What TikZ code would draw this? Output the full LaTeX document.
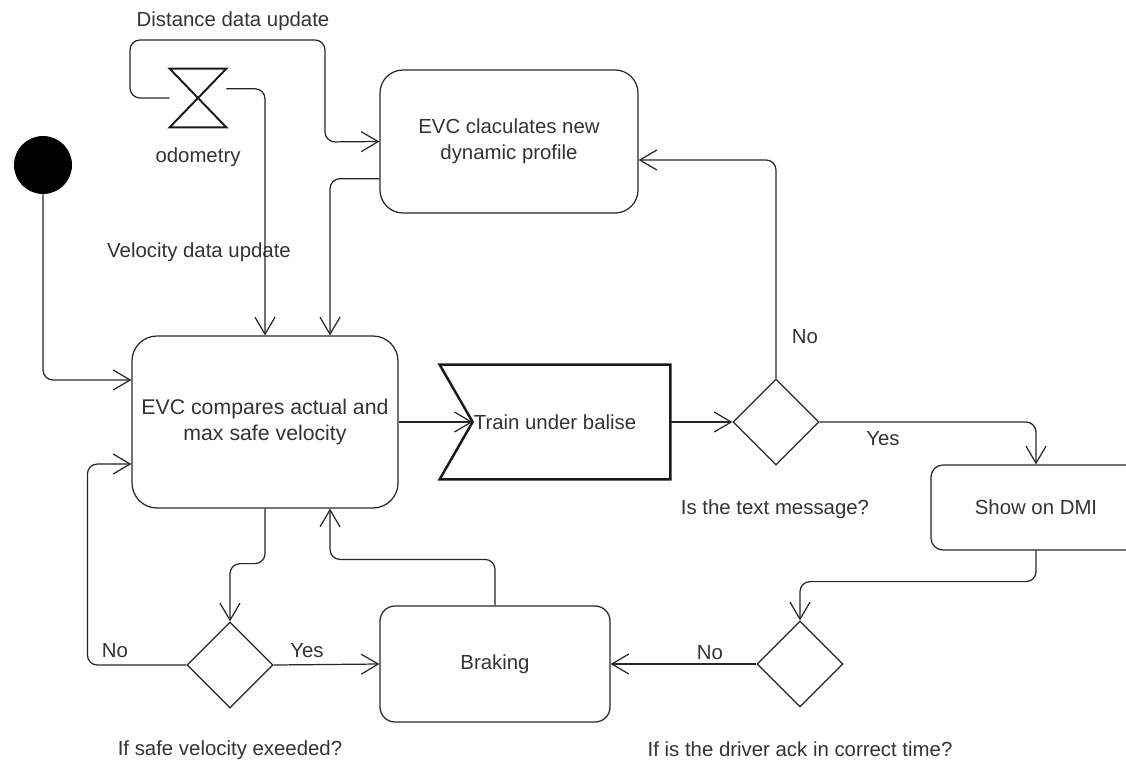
\documentclass[tikz,border=0pt]{standalone}
\usepackage{fontspec}
\setmainfont{Liberation Sans}
\usetikzlibrary{arrows.meta,shapes.geometric}
\begin{document}
\begin{tikzpicture}[x=0.2mm,y=-0.2mm,
  every node/.style={font=\fontsize{11.6}{15}\selectfont, text=black!80},
  flow/.style={draw=black!85, line width=0.7pt, rounded corners=2mm, -{Straight Barb[length=3.4mm,width=4mm]}},
  state/.style={draw=black!85, line width=0.7pt, rounded corners=4mm, align=center, inner sep=0pt},
  choice/.style={draw=black!85, line width=0.7pt, diamond, minimum size=17.2mm, inner sep=0pt}]
  \useasboundingbox (0,0) rectangle (1126,763);
  \node[circle, fill=black, minimum size=11.6mm, inner sep=0pt] (start) at (43,165) {};
  \node[minimum width=11.2mm, minimum height=11.6mm, inner sep=0pt] (odo) at (198,98) {};
  \draw[line width=1.1pt, black!90] (odo.north west) -- (odo.north east) -- (odo.south west) -- (odo.south east) -- cycle;
  \node (odolbl) at (198,157) {odometry};
  \node (distlbl) at (233,21) {Distance data update};
  \node (vellbl) at (199,252) {Velocity data update};
  \node[state, rounded corners=4.6mm, minimum width=51.6mm, minimum height=28.6mm] (calc) at (509,141.5) {EVC claculates new\\dynamic profile};
  \node[state, rounded corners=5mm, minimum width=53.2mm, minimum height=34.4mm, font=\fontsize{12.1}{15.2}\selectfont] (main) at (265,422) {EVC compares actual and\\max safe velocity};
  \node[minimum width=46mm, minimum height=22.8mm, inner sep=0pt] (train) at (555,422) {Train under balise};
  \draw[line width=1.4pt, black!90] (train.north west) -- (train.north east) -- (train.south east) -- (train.south west) -- ([xshift=6.6mm]train.west) -- cycle;
  \node[choice] (msg) at (776,422) {};
  \node[state, rounded corners=2.4mm, minimum width=42mm, minimum height=17mm] (dmi) at (1036,507.5) {Show on DMI};
  \node[choice] (ack) at (800,664) {};
  \node[state, rounded corners=3mm, minimum width=46mm, minimum height=23.2mm] (brake) at (495,664) {Braking};
  \node[choice] (over) at (230,665) {};
  \node (msglbl) at (775,509) {Is the text message?};
  \node (acklbl) at (800,749) {If is the driver ack in correct time?};
  \node (overlbl) at (230,750) {If safe velocity exeeded?};
  \node (no1) at (805,337) {No};
  \node (yes1) at (883,439) {Yes};
  \node (no2) at (710,653) {No};
  \node (yes2) at (307,651) {Yes};
  \node (no3) at (115,651) {No};
  \draw[flow] (start.south) |- ([yshift=8.4mm]main.west);
  \draw[flow] (odo.west) -| (130,40) -| (325,142) -- (calc.west);
  \draw[flow] (odo.18) -| (main.north);
  \draw[flow] (calc.196) -| ([xshift=13mm]main.north);
  \draw[flow] (main.east) -- ([xshift=6.6mm]train.west);
  \draw[flow] (train.east) -- (msg.west);
  \draw[flow] (msg.north) |- ([yshift=-3.7mm]calc.east);
  \draw[flow] (msg.east) -| (dmi.north);
  \draw[flow] (dmi.south) -- ++(0,31) -| (ack.north);
  \draw[flow] (ack.west) -- (brake.east);
  \draw[flow] (brake.north) -- ++(0,-46) -| ([xshift=13mm]main.south);
  \draw[flow] (main.south) -- ++(0,55) -| (over.north);
  \draw[flow] (over.east) -- (brake.west);
  \draw[flow] (over.west) -- ++(-99,0) |- ([yshift=-8.4mm]main.west);
\end{tikzpicture}
\end{document}
